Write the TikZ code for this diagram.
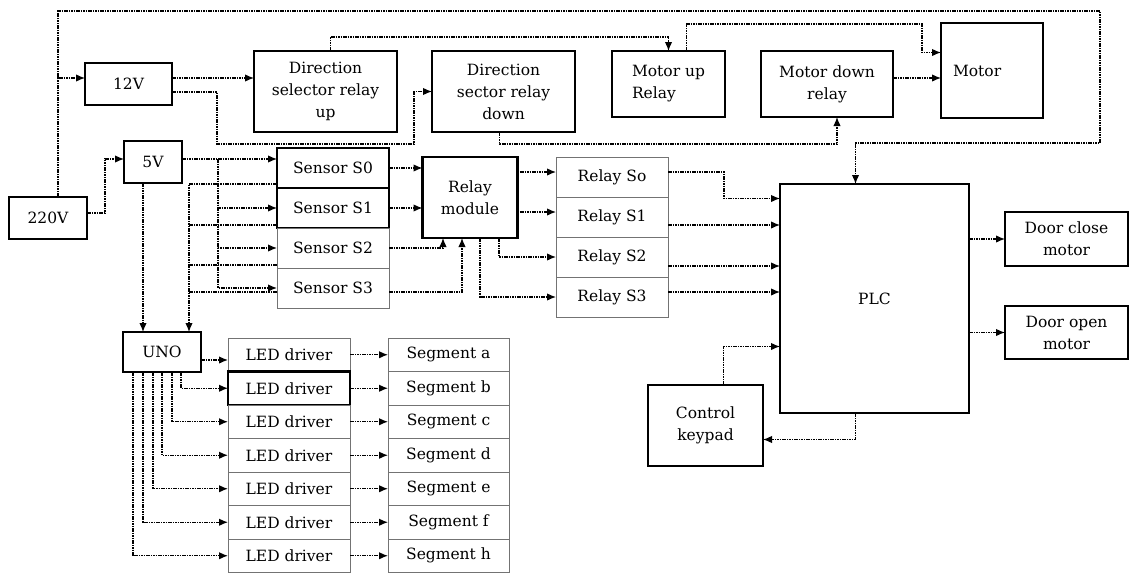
\documentclass[tikz,border=0pt]{standalone}
\usepackage{fontspec}
\setmainfont{DejaVu Serif}
\usetikzlibrary{positioning, arrows.meta}
\tikzset{
    block/.style={rectangle, draw=black, line width=2.8pt, outer sep=0pt, inner sep=2pt, align=center, font=\fontsize{15.5}{22}\selectfont},
    cellbox/.style={rectangle, draw=black!55, line width=1pt, outer sep=0pt, inner sep=2pt, align=center, font=\fontsize{15.5}{22}\selectfont},
    arrow/.style={line width=1.3pt, dash pattern=on 1.6pt off 0.8pt, ->, >={Latex[length=9pt,width=7.5pt]}},
    line/.style={line width=1.3pt, dash pattern=on 1.6pt off 0.8pt},
}

\begin{document}
\begin{tikzpicture}[x=1pt, y=-1pt]
      \useasboundingbox (0,0) rectangle (1130,573);
      %%%%%%%%%%%%%%%%
      % Power supply %
      %%%%%%%%%%%%%%%%
      \node (pwr220) [block, minimum width=78pt, minimum height=42pt] at (48,218)
          {220V};
      \node (v12) [block, minimum width=87pt, minimum height=42pt] at (128.5,84)
          {12V};
      \node (v5) [block, minimum width=58pt, minimum height=42pt] at (153,162)
          {5V};

      %%%%%%%%%%%%%%%%
      % Motor relays %
      %%%%%%%%%%%%%%%%
      \node (dirup) [block, minimum width=143pt, minimum height=81pt] at (325.5,91.5)
          {Direction\\selector relay\\up};
      \node (dirdown) [block, minimum width=143pt, minimum height=81pt] at (503.5,91.5)
          {Direction\\sector relay\\down};
      \node (motup) [block, minimum width=113pt, minimum height=66pt, align=left] at (668.5,84)
          {Motor up\\Relay};
      \node (motdown) [block, minimum width=132pt, minimum height=66pt] at (827,84)
          {Motor down\\relay};
      \node (motor) [block, minimum width=102pt, minimum height=95pt, text width=78pt, align=left] at (992,70.5)
          {Motor};

      %%%%%%%%%%%%%%%%%%%%%%%%%%%%
      % Sensors, relays and PLC %
      %%%%%%%%%%%%%%%%%%%%%%%%%%%%
      \node (sens0) [block, minimum width=112pt, minimum height=40pt] at (333,168)
          {Sensor S0};
      \node (sens1) [block, minimum width=112pt, minimum height=40pt, below=0pt of sens0]
          {Sensor S1};
      \node (sens2) [cellbox, minimum width=112pt, minimum height=40pt, below=0pt of sens1]
          {Sensor S2};
      \node (sens3) [cellbox, minimum width=112pt, minimum height=40pt, below=0pt of sens2]
          {Sensor S3};
      \node (relmod) [block, minimum width=95pt, minimum height=81pt] at (470,197.5)
          {Relay\\module};
      \node (rel0) [cellbox, minimum width=112pt, minimum height=40pt] at (612,177)
          {Relay So};
      \node (rel1) [cellbox, minimum width=112pt, minimum height=40pt, below=0pt of rel0]
          {Relay S1};
      \node (rel2) [cellbox, minimum width=112pt, minimum height=40pt, below=0pt of rel1]
          {Relay S2};
      \node (rel3) [cellbox, minimum width=112pt, minimum height=40pt, below=0pt of rel2]
          {Relay S3};
      \node (plc) [block, minimum width=189pt, minimum height=229pt] at (874.5,298.5)
          {PLC};
      \node (doorclose) [block, minimum width=123pt, minimum height=54pt] at (1066.5,239)
          {Door close\\motor};
      \node (dooropen) [block, minimum width=123pt, minimum height=53pt] at (1066.5,332.5)
          {Door open\\motor};
      \node (keypad) [block, minimum width=115pt, minimum height=81pt] at (705.5,425.5)
          {Control\\keypad};

      %%%%%%%%%%%%%%%%%%%%%%%%
      % UNO and 7 segments %
      %%%%%%%%%%%%%%%%%%%%%%%%
      \node (uno) [block, minimum width=78pt, minimum height=40pt] at (162,352)
          {UNO};
      \node (led1) [cellbox, minimum width=122pt, minimum height=33.5pt] at (289,354.75)
          {LED driver};
      \node (led2) [block, line width=2.2pt, minimum width=122pt, minimum height=33.5pt, below=0pt of led1]
          {LED driver};
      \node (led3) [cellbox, minimum width=122pt, minimum height=33.5pt, below=0pt of led2]
          {LED driver};
      \node (led4) [cellbox, minimum width=122pt, minimum height=33.5pt, below=0pt of led3]
          {LED driver};
      \node (led5) [cellbox, minimum width=122pt, minimum height=33.5pt, below=0pt of led4]
          {LED driver};
      \node (led6) [cellbox, minimum width=122pt, minimum height=33.5pt, below=0pt of led5]
          {LED driver};
      \node (led7) [cellbox, minimum width=122pt, minimum height=33.5pt, below=0pt of led6]
          {LED driver};
      \node (seg1) [cellbox, minimum width=121pt, minimum height=33.5pt] at (448.5,354.75)
          {Segment a};
      \node (seg2) [cellbox, minimum width=121pt, minimum height=33.5pt, below=0pt of seg1]
          {Segment b};
      \node (seg3) [cellbox, minimum width=121pt, minimum height=33.5pt, below=0pt of seg2]
          {Segment c};
      \node (seg4) [cellbox, minimum width=121pt, minimum height=33.5pt, below=0pt of seg3]
          {Segment d};
      \node (seg5) [cellbox, minimum width=121pt, minimum height=33.5pt, below=0pt of seg4]
          {Segment e};
      \node (seg6) [cellbox, minimum width=121pt, minimum height=33.5pt, below=0pt of seg5]
          {Segment f};
      \node (seg7) [cellbox, minimum width=121pt, minimum height=33.5pt, below=0pt of seg6]
          {Segment h};

      % supply wiring
      \coordinate (looptop) at (1100,11);
      \coordinate (loopdrop) at (1100,143);
      \draw [arrow] ([xshift=10pt]pwr220.north) |- (looptop) -- (loopdrop) -| ([xshift=-19pt]plc.north);
      \draw [arrow] ([xshift=10pt]pwr220.north) |- ([yshift=6pt]v12.west);
      \draw [arrow] ([yshift=5pt]pwr220.east) -| ([xshift=-19pt,yshift=3pt]v5.west) -- ([yshift=3pt]v5.west);
      \draw [arrow] ([yshift=6pt]v12.east) -- ([yshift=6pt]v12.east -| dirup.west);
      \draw [arrow] ([yshift=-8pt]v12.east) -| ++(45,52) -| ([xshift=-18pt]dirdown.west) -- (dirdown.west);

      % motor wiring
      \draw [arrow] ([xshift=5pt]dirup.north) -- ++(0,-14) -| (motup.north);
      \draw [arrow] ([xshift=18pt]motup.north) -- ++(0,-27) -| ([xshift=-19pt,yshift=18pt]motor.west) -- ([yshift=18pt]motor.west);
      \draw [arrow] ([xshift=-4pt]dirdown.south) -- ++(0,12) -| ([xshift=10pt]motdown.south);
      \draw [arrow] ([yshift=6pt]motdown.east) -- ([yshift=6pt]motdown.east -| motor.west);

      % sensor wiring
      \draw [arrow] ([yshift=3pt]v5.east) -- ([yshift=3pt]v5.east -| sens0.west);
      \draw [arrow] ([xshift=36pt,yshift=3pt]v5.east) |- (sens1.west);
      \draw [arrow] ([xshift=36pt,yshift=3pt]v5.east) |- (sens2.west);
      \draw [arrow] ([xshift=36pt,yshift=3pt]v5.east) |- (sens3.west);
      \draw [arrow] ([yshift=-16pt]sens0.west) -| ([xshift=27pt]uno.north);
      \draw [line] ([yshift=-17pt]sens1.west) -- ++(-88,0);
      \draw [line] ([yshift=-17pt]sens2.west) -- ++(-88,0);
      \draw [line] ([yshift=-4pt]sens3.west) -- ++(-88,0);
      \draw [arrow] ([xshift=-10pt]v5.south) -- ([xshift=-10pt]v5.south |- uno.north);
      \draw [arrow] (sens0.east) -- (sens0.east -| relmod.west);
      \draw [arrow] (sens1.east) -- (sens1.east -| relmod.west);
      \draw [arrow] (sens2.east) -| ([xshift=-27pt]relmod.south);
      \draw [arrow] ([yshift=-4pt]sens3.east) -| ([xshift=-8pt]relmod.south);

      % relay wiring
      \draw [arrow] ([yshift=-15pt]relmod.north east) -- ([yshift=-15pt]relmod.north east -| rel0.west);
      \draw [arrow] ([yshift=-55pt]relmod.north east) -- ([yshift=-55pt]relmod.north east -| rel1.west);
      \draw [arrow] ([xshift=29pt]relmod.south) |- (rel2.west);
      \draw [arrow] ([xshift=10pt]relmod.south) |- (rel3.west);
      \draw [arrow] ([yshift=5pt]rel0.east) -- ++(56,0) |- ([yshift=100pt]plc.west);
      \draw [arrow] ([yshift=-8pt]rel1.east) -- ([yshift=-8pt]rel1.east -| plc.west);
      \draw [arrow] ([yshift=-9pt]rel2.east) -- ([yshift=-9pt]rel2.east -| plc.west);
      \draw [arrow] ([yshift=5pt]rel3.east) -- ([yshift=5pt]rel3.east -| plc.west);

      % PLC wiring
      \draw [arrow] (plc.east |- doorclose.west) -- (doorclose.west);
      \draw [arrow] (plc.east |- dooropen.west) -- (dooropen.west);
      \draw [arrow] ([xshift=18pt]keypad.north) |- ([yshift=-48pt]plc.west);
      \draw [arrow] ([xshift=-19pt]plc.south) |- ([yshift=-14pt]keypad.east);

      % display wiring
      \draw [arrow] ([yshift=-8pt]uno.east) -- ([yshift=-8pt]uno.east -| led1.west);
      \draw [arrow] ([xshift=19pt]uno.south) |- (led2.west);
      \draw [arrow] ([xshift=10pt]uno.south) |- (led3.west);
      \draw [arrow] (uno.south) |- (led4.west);
      \draw [arrow] ([xshift=-9pt]uno.south) |- (led5.west);
      \draw [arrow] ([xshift=-19pt]uno.south) |- (led6.west);
      \draw [arrow] ([xshift=-29pt]uno.south) |- (led7.west);
      \draw [arrow] (led1) -- (seg1);
      \draw [arrow] (led2) -- (seg2);
      \draw [arrow] (led3) -- (seg3);
      \draw [arrow] (led4) -- (seg4);
      \draw [arrow] (led5) -- (seg5);
      \draw [arrow] (led6) -- (seg6);
      \draw [arrow] (led7) -- (seg7);

    \end{tikzpicture}
\end{document}
